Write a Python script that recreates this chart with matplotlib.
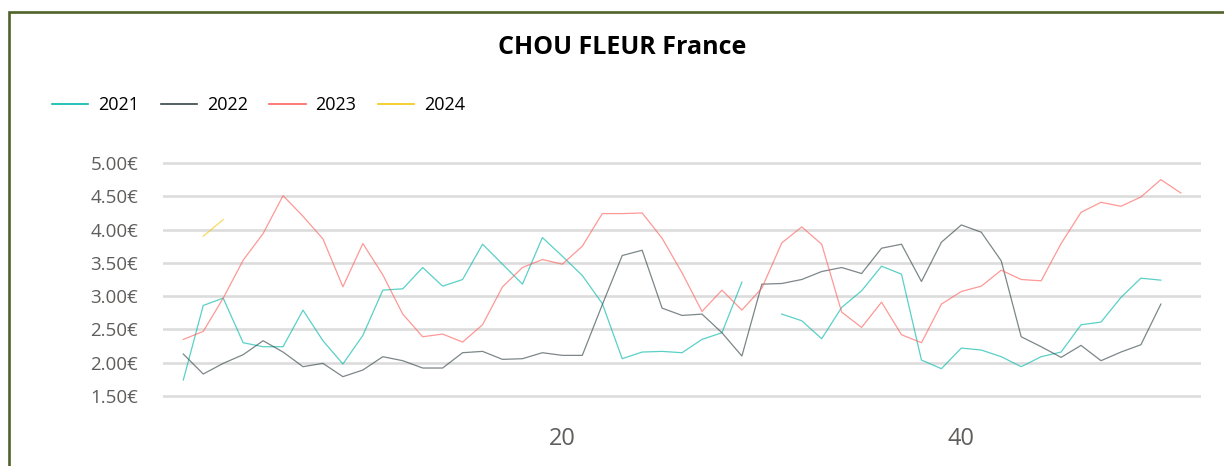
import numpy as np
import matplotlib
matplotlib.use("Agg")
import matplotlib.pyplot as plt
from matplotlib.patches import Rectangle
from matplotlib.lines import Line2D

nan = np.nan

weeks = list(range(1, 52))

prix_2021 = [1.74, 2.86, 2.97, 2.30, 2.24, 2.24, 2.79, 2.33, 1.98, 2.41,
             3.09, 3.11, 3.43, 3.15, 3.25, 3.78, 3.48, 3.18, 3.88, 3.60,
             3.31, 2.89, 2.06, 2.16, 2.17, 2.15, 2.35, 2.45, 3.21, nan,
             2.73, 2.63, 2.36, 2.83, 3.08, 3.45, 3.33, 2.04, 1.91, 2.22,
             2.19, 2.09, 1.94, 2.09, 2.16, 2.57, 2.61, 2.98, 3.27, 3.24, nan]

prix_2022 = [2.13, 1.83, 1.99, 2.12, 2.33, 2.16, 1.94, 1.99, 1.79, 1.89,
             2.09, 2.03, 1.92, 1.92, 2.15, 2.17, 2.05, 2.06, 2.15, 2.11,
             2.11, 2.87, 3.61, 3.69, 2.82, 2.71, 2.73, 2.45, 2.10, 3.18,
             3.19, 3.25, 3.37, 3.43, 3.34, 3.72, 3.78, 3.22, 3.81, 4.07,
             3.96, 3.53, 2.39, 2.24, 2.08, 2.26, 2.03, 2.16, 2.27, 2.88, nan]

prix_2023 = [2.35, 2.47, 2.97, 3.54, 3.94, 4.51, 4.20, 3.86, 3.14, 3.79,
             3.32, 2.73, 2.39, 2.43, 2.31, 2.57, 3.14, 3.43, 3.55, 3.48,
             3.75, 4.24, 4.24, 4.25, 3.87, 3.35, 2.77, 3.09, 2.79, 3.12,
             3.80, 4.04, 3.78, 2.76, 2.53, 2.91, 2.42, 2.30, 2.88, 3.07,
             3.15, 3.39, 3.25, 3.23, 3.79, 4.26, 4.41, 4.35, 4.49, 4.75, 4.55]

weeks_2024 = [2, 3]
prix_2024 = [3.90, 4.15]

annees = ["2021", "2022", "2023", "2024"]
couleurs = ["#01B8AA", "#374649", "#FD625E", "#F2C80F"]
y_ticks = [1.5, 2.0, 2.5, 3.0, 3.5, 4.0, 4.5, 5.0]
x_ticks = [20, 40]

plt.rcParams['font.family'] = ['Open Sans', 'DejaVu Sans']

W, H = 1224, 466
fig = plt.figure(figsize=(W / 100, H / 100), dpi=100)

# cadre vert autour du visuel
fig.patches.append(Rectangle((9 / W, -0.2), 2.0, 1.2 - 12 / H, transform=fig.transFigure,
                             fill=False, edgecolor="#4F6228", linewidth=1.9))

ax = fig.add_axes([163.35 / W, (H - 399.3) / H, (1200.75 - 163.35) / W, (399.3 - 159.7) / H])

series = [(weeks, prix_2021), (weeks, prix_2022), (weeks, prix_2023), (weeks_2024, prix_2024)]
for (xs, ys), c in zip(series, couleurs):
    ax.plot(xs, ys, color=c, linewidth=0.9, alpha=0.65, zorder=3)

ax.set_xlim(0, 52)
ax.set_ylim(1.45, 5.05)
ax.set_yticks(y_ticks)
ax.set_yticklabels([f"{v:.2f}€" for v in y_ticks])
ax.set_xticks(x_ticks)
ax.set_xticklabels([str(v) for v in x_ticks])
ax.tick_params(axis='y', length=0, pad=18, labelsize=13.5, labelcolor="#605E5C")
ax.tick_params(axis='x', length=0, pad=20, labelsize=17, labelcolor="#605E5C")
ax.grid(axis='y', color="#DCDCDC", linewidth=1.9, zorder=0)
ax.grid(axis='x', visible=False)
for s in ax.spines.values():
    s.set_visible(False)

fig.text(622 / W, (H - 48) / H, "CHOU FLEUR France", ha='center', va='center',
         fontsize=18, fontweight='bold', color='black')

handles = [Line2D([0], [0], color=c, linewidth=1.2) for c in couleurs]
fig.legend(handles, annees, loc='center left', bbox_to_anchor=(52 / W, (H - 105) / H),
           ncol=4, frameon=False, fontsize=13, handlelength=2.0, handletextpad=0.55,
           columnspacing=1.2, borderaxespad=0, borderpad=0)

fig.savefig("out.png", dpi=100)
